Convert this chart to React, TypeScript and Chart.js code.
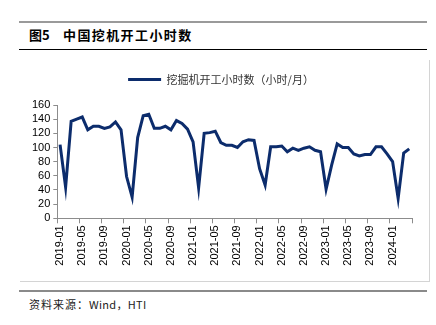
import React, { useEffect, useRef } from "react";
import { Chart, registerables } from "chart.js";

Chart.register(...registerables);

const title = "图5";
const titleText = "中国挖机开工小时数";
const seriesName = "挖掘机开工小时数（小时/月）";
const sourceLabel = "资料来源：";
const sourceNames = "Wind，HTI";

const years = ["2019", "2020", "2021", "2022", "2023", "2024"];
const monthsPerYear = [12, 12, 12, 12, 12, 4];
const categories: string[] = [];
years.forEach((y, yi) => {
  for (let m = 1; m <= monthsPerYear[yi]; m++) {
    categories.push(`${y}-${m < 10 ? "0" + m : m}`);
  }
});

const hours2019 = [104, 44, 137, 140, 143, 125, 130, 130, 127, 129, 136, 125];
const hours2020 = [59, 30, 114, 145, 147, 127, 127, 130, 125, 138, 134, 126];
const hours2021 = [108, 43, 120, 121, 123, 107, 103, 103, 100, 108, 111, 110];
const hours2022 = [70, 47, 101, 101, 102, 94, 99, 96, 99, 101, 96, 94];
const hours2023 = [41, 75, 105, 100, 100, 91, 88, 90, 90, 101, 101, 91];
const hours2024 = [80, 28, 92, 98];
const hours = [...hours2019, ...hours2020, ...hours2021, ...hours2022, ...hours2023, ...hours2024];

const yTicks = { min: 0, max: 160, step: 20 };
const labelEvery = 4;

const lineColor = "#0c2c6c";
const axisColor = "#8c8c8c";

const legendSpacer = {
  id: "legendSpacer",
  beforeInit(chart: any) {
    const legend = chart.legend;
    if (!legend) return;
    const origFit = legend.fit;
    legend.fit = function () {
      origFit.call(this);
      this.height += 10;
    };
  },
};

export default function App() {
  const canvasRef = useRef<HTMLCanvasElement | null>(null);

  useEffect(() => {
    document.body.style.margin = "0";
    const canvas = canvasRef.current;
    if (!canvas) return;
    const chart = new Chart(canvas, {
      type: "line",
      data: {
        labels: categories,
        datasets: [
          {
            label: seriesName,
            data: hours,
            borderColor: lineColor,
            backgroundColor: lineColor,
            borderWidth: 3,
            pointRadius: 0,
            tension: 0,
            pointStyle: "line",
          },
        ],
      },
      plugins: [legendSpacer],
      options: {
        animation: false,
        responsive: false,
        maintainAspectRatio: false,
        layout: { padding: { left: 10, right: 17, top: 4, bottom: 0 } },
        plugins: {
          legend: {
            display: true,
            position: "top",
            labels: {
              usePointStyle: true,
              pointStyle: "line",
              pointStyleWidth: 33,
              color: "#333",
              padding: 10,
              font: { family: "'Noto Sans CJK SC', 'Liberation Sans'", size: 11 },
            },
          },
          tooltip: { enabled: false },
        },
        scales: {
          x: {
            type: "category",
            offset: true,
            afterFit: (scale: any) => {
              scale.height = 62.7;
            },
            grid: {
              offset: true,
              drawOnChartArea: false,
              drawTicks: true,
              tickLength: 5,
              color: (ctx: any) =>
                ctx.index === undefined || ctx.index % labelEvery === 0 ? axisColor : "rgba(0,0,0,0)",
            },
            border: { display: true, color: axisColor, width: 1 },
            ticks: {
              autoSkip: false,
              maxRotation: 90,
              minRotation: 90,
              padding: 2,
              color: "#000",
              font: { family: "'Liberation Sans', Arial", size: 11 },
              callback: (_v: any, i: number) => (i % labelEvery === 0 ? categories[i] : ""),
            },
          },
          y: {
            min: yTicks.min,
            max: yTicks.max,
            afterFit: (scale: any) => {
              scale.width = 27.3;
            },
            grid: {
              drawOnChartArea: false,
              drawTicks: true,
              tickLength: 4,
              color: axisColor,
            },
            border: { display: true, color: axisColor, width: 1 },
            ticks: {
              stepSize: yTicks.step,
              autoSkip: false,
              padding: 3,
              color: "#000",
              font: { family: "'Liberation Sans', Arial", size: 11 },
            },
          },
        },
      },
    });
    return () => chart.destroy();
  }, []);

  return (
    <div
      style={{
        position: "absolute",
        left: 0,
        top: 0,
        width: 436,
        height: 325,
        background: "#fff",
        fontFamily: "'Noto Sans CJK SC', sans-serif",
      }}
    >
      <div style={{ position: "absolute", left: 19, top: 21, width: 408, height: 2, background: "#9a9a9a" }} />
      <div
        style={{
          position: "absolute",
          left: 29,
          top: 26,
          fontSize: 13,
          fontWeight: 700,
          color: "#000",
          whiteSpace: "nowrap",
          lineHeight: "18px",
        }}
      >
        <span>{title}</span>
        <span style={{ position: "absolute", left: 34, letterSpacing: "1.4px" }}>{titleText}</span>
      </div>
      <div style={{ position: "absolute", left: 19, top: 49, width: 408, height: 1, background: "#000" }} />
      <div
        style={{
          position: "absolute",
          left: 20,
          top: 60,
          width: 409,
          height: 221,
          borderRight: "1px solid #d4d4d4",
          borderBottom: "1px solid #d4d4d4",
        }}
      >
        <canvas ref={canvasRef} width={409} height={221} style={{ display: "block", width: 409, height: 221 }} />
      </div>
      <div style={{ position: "absolute", left: 19, top: 290, width: 408, height: 2, background: "#8a8a8a" }} />
      <div
        style={{
          position: "absolute",
          left: 29,
          top: 296,
          fontSize: 11,
          color: "#222",
          whiteSpace: "nowrap",
          lineHeight: "16px",
        }}
      >
        <span style={{ letterSpacing: "1px" }}>{sourceLabel}</span>
        <span style={{ letterSpacing: "0.3px" }}>{sourceNames}</span>
      </div>
    </div>
  );
}
